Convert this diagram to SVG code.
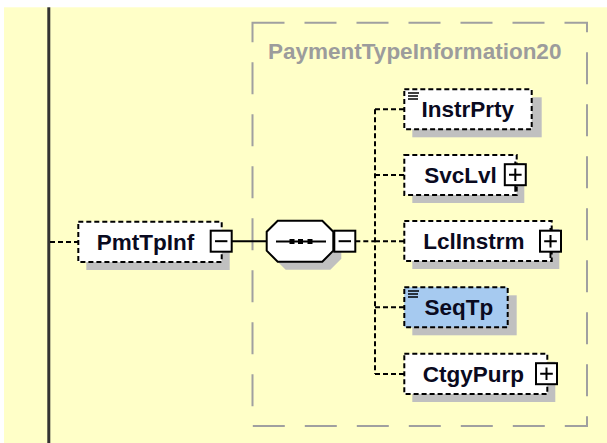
<svg xmlns="http://www.w3.org/2000/svg" width="607" height="443" viewBox="0 0 607 443">
<style>
.shadow{fill:#c0c0c0}
.node{fill:#fff;stroke:#000;stroke-width:2;stroke-dasharray:5 3}
.sel{fill:#a6caf0}
.lbl{font-family:"Liberation Sans",Arial,sans-serif;font-weight:bold;font-size:22.5px;fill:#0a0a20}
.title{font-family:"Liberation Sans",Arial,sans-serif;font-weight:bold;font-size:22.5px;fill:#9c9c9c}
.conn{stroke:#000;stroke-width:2;stroke-dasharray:5 3;fill:none}
.solid{stroke:#000;stroke-width:2;fill:none}
.btn{fill:#fff;stroke:#000;stroke-width:2}
.sign{stroke:#000;stroke-width:2;fill:none}
.icon{stroke:#000;stroke-width:1.4;fill:none}
.cont{fill:none;stroke:#a0a0a0;stroke-width:2;stroke-dasharray:32 20}
</style>
<rect x="0" y="0" width="607" height="443" fill="#ffffff"/>
<rect x="4" y="7.3" width="603" height="436" fill="#ffffc8"/>
<rect x="47.3" y="7.3" width="3" height="436" fill="#333333"/>
<g id="container">
<rect class="cont" x="252.5" y="22.7" width="334.5" height="403.3"/>
<text class="title" x="268" y="58.5">PaymentTypeInformation20</text>
</g>
<g id="connectors">
<path class="conn" d="M50 242 H78"/>
<path class="solid" d="M232 241.2 H267"/>
<path class="conn" d="M355.3 241.2 H375"/>
<path class="conn" d="M375 109.3 V374"/>
<path class="conn" d="M375 109.3 H404"/>
<path class="conn" d="M375 175 H404"/>
<path class="conn" d="M375 241.2 H404"/>
<path class="conn" d="M375 307.3 H404"/>
<path class="conn" d="M375 374 H404"/>
</g>
<g id="PmtTpInf">
<rect class="shadow" x="86.3" y="229.7" width="143.4" height="40.3"/>
<rect class="node" x="78.3" y="221.7" width="143.4" height="40.3"/>
<text class="lbl" x="96.7" y="249.5">PmtTpInf</text>
<rect class="btn" x="210.7" y="230.7" width="21" height="21"/>
<path class="sign" d="M215 241.2 H227.4"/>
</g>
<g id="sequence">
<polygon class="shadow" points="285.7,228.7 330.3,228.7 341.3,239.7 341.3,258.7 330.3,269.7 285.7,269.7 274.7,258.7 274.7,239.7"/>
<polygon fill="#fff" stroke="#000" stroke-width="2" points="277.7,220.7 322.3,220.7 333.3,231.7 333.3,250.7 322.3,261.7 277.7,261.7 266.7,250.7 266.7,231.7"/>
<path class="solid" d="M276 241.5 H326"/>
<rect x="289.5" y="239" width="5" height="5" fill="#000"/>
<rect x="298" y="239" width="5" height="5" fill="#000"/>
<rect x="307.5" y="239" width="5" height="5" fill="#000"/>
<rect class="btn" x="334.3" y="230.7" width="21" height="21"/>
<path class="sign" d="M338.6 241.2 H351"/>
</g>
<g id="InstrPrty">
<rect class="shadow" x="412.3" y="97.3" width="129.4" height="40"/>
<rect class="node" x="404.3" y="89.3" width="127.4" height="40"/>
<path class="icon" d="M408 93 H419 M408 96 H418 M408 99 H418"/>
<text class="lbl" x="421.5" y="117">InstrPrty</text>
</g>
<g id="SvcLvl">
<rect class="shadow" x="412.3" y="163" width="112" height="40"/>
<rect class="node" x="404.3" y="155" width="112.4" height="40"/>
<text class="lbl" x="424.3" y="182.8">SvcLvl</text>
<path class="sign" d="M515.3 161.5 V164.2 M515.3 185.2 V191.7"/>
<rect class="btn" x="504.8" y="164.2" width="21" height="21"/>
<path class="sign" d="M509 174.7 H521.6 M515.3 168.4 V181"/>
</g>
<g id="LclInstrm">
<rect class="shadow" x="412.3" y="229" width="147" height="40"/>
<rect class="node" x="404.3" y="221" width="147.4" height="40"/>
<text class="lbl" x="423.3" y="248.8">LclInstrm</text>
<path class="sign" d="M550.5 228 V230.7 M550.5 251.7 V258"/>
<rect class="btn" x="540" y="230.7" width="21" height="21"/>
<path class="sign" d="M544.2 241.2 H556.8 M550.5 234.9 V247.5"/>
</g>
<g id="SeqTp">
<rect class="shadow" x="412.3" y="295.3" width="104.4" height="40"/>
<rect class="node sel" x="404.3" y="287.3" width="103.4" height="40"/>
<path class="icon" d="M408 291 H419 M408 294 H418 M408 297 H418"/>
<text class="lbl" x="424.5" y="315">SeqTp</text>
</g>
<g id="CtgyPurp">
<rect class="shadow" x="412.3" y="361.7" width="143" height="40.3"/>
<rect class="node" x="404.3" y="353.7" width="143" height="40.3"/>
<text class="lbl" x="422.7" y="381.5">CtgyPurp</text>
<rect class="btn" x="536" y="363.2" width="21" height="21"/>
<path class="sign" d="M540.2 373.7 H552.8 M546.5 367.4 V380"/>
</g>
</svg>
